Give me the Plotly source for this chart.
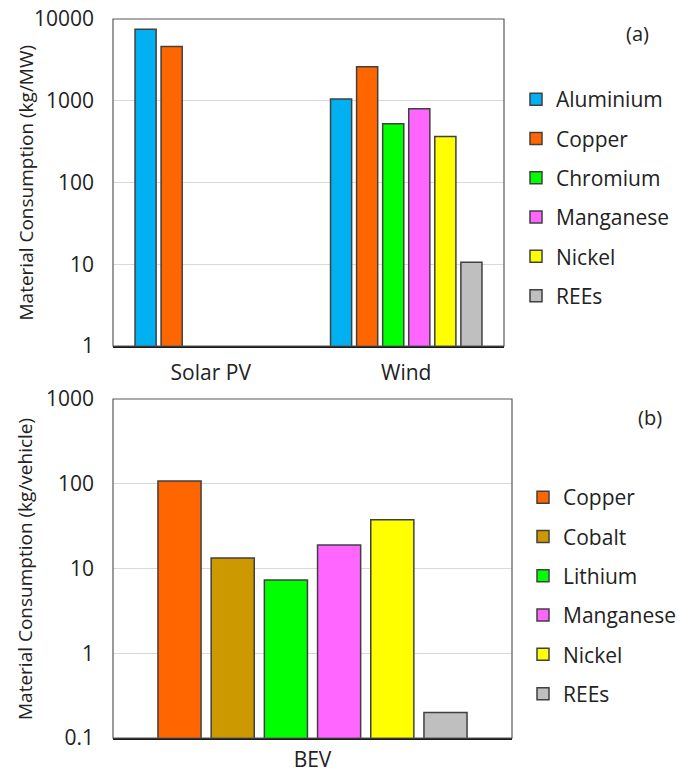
import plotly.graph_objects as go

# ---- data ----
energy_categories = ["Solar PV", "Wind"]
energy_materials = ["Aluminium", "Copper", "Chromium", "Manganese", "Nickel", "REEs"]
aluminium = [7500, 1050]
copper = [4600, 2600]
chromium = [None, 525]
manganese = [None, 800]
nickel = [None, 365]
rees = [None, 10.6]
energy_values = [aluminium, copper, chromium, manganese, nickel, rees]

bev_category = ["BEV"]
bev_materials = ["Copper", "Cobalt", "Lithium", "Manganese", "Nickel", "REEs"]
bev_values = [108, 13.3, 7.3, 19, 37.5, 0.2]

top_ticks = [1, 10, 100, 1000, 10000]
top_ticktext = ["1", "10", "100", "1000", "10000"]
bot_ticks = [0.1, 1, 10, 100, 1000]
bot_ticktext = ["0.1", "1", "10", "100", "1000"]

colors = {
    "Aluminium": "#00B0F0",
    "Copper": "#FF6600",
    "Chromium": "#00FF00",
    "Manganese": "#FF66FF",
    "Nickel": "#FFFF00",
    "REEs": "#BFBFBF",
    "Cobalt": "#CC9900",
    "Lithium": "#00FF00",
}

FONT = "Open Sans"
TXT = "#222222"
fig = go.Figure()

for name, vals in zip(energy_materials, energy_values):
    fig.add_trace(go.Bar(
        x=energy_categories, y=vals, name=name,
        marker=dict(color=colors[name], line=dict(color="#404040", width=1.5)),
        xaxis="x", yaxis="y", legend="legend", legendgroup="a" + name,
    ))

for name, val in zip(bev_materials, bev_values):
    fig.add_trace(go.Bar(
        x=bev_category, y=[val], name=name,
        marker=dict(color=colors[name], line=dict(color="#404040", width=1.5)),
        xaxis="x2", yaxis="y2", legend="legend2", legendgroup="b" + name,
    ))

axis_common_y = dict(
    type="log", showgrid=True, gridcolor="#D9D9D9", gridwidth=1,
    showline=False, ticks="", automargin=False,
    tickfont=dict(family=FONT, size=21, color=TXT),
    zeroline=False, ticklabelstandoff=18,
)
axis_common_x = dict(
    showline=True, linecolor="#1a1a1a", linewidth=1.8, mirror=False,
    ticks="", automargin=False,
    tickfont=dict(family=FONT, size=21, color=TXT),
    showgrid=False,
)

W, H = 690, 776
frame = dict(type="rect", x0=0, x1=1, y0=0, y1=1,
             line=dict(color="#595959", width=1.2), layer="above")
title_font = dict(family=FONT, size=19, color=TXT)

fig.update_layout(
    width=W, height=H,
    margin=dict(l=0, r=0, t=0, b=0, autoexpand=False),
    paper_bgcolor="white", plot_bgcolor="white",
    barmode="group", bargap=0.2, bargroupgap=0.19,
    font=dict(family=FONT, size=21, color=TXT),
    showlegend=True,
    xaxis=dict(domain=[113 / W, 504 / W], anchor="y", ticklabelstandoff=7,
               **axis_common_x),
    yaxis=dict(domain=[1 - 346 / H, 1 - 19 / H], anchor="x",
               range=[0, 4], tickvals=top_ticks, ticktext=top_ticktext,
               **axis_common_y),
    xaxis2=dict(domain=[113 / W, 512 / W], anchor="y2", ticklabelstandoff=2,
                **axis_common_x),
    yaxis2=dict(domain=[1 - 738 / H, 1 - 399 / H], anchor="x2",
                range=[-1, 3], tickvals=bot_ticks, ticktext=bot_ticktext,
                **axis_common_y),
    legend=dict(x=516 / W, y=1 - 79 / H, xanchor="left", yanchor="top",
                font=dict(family=FONT, size=21, color=TXT),
                tracegroupgap=9, bgcolor="rgba(0,0,0,0)"),
    legend2=dict(x=523 / W, y=1 - 477 / H, xanchor="left", yanchor="top",
                 font=dict(family=FONT, size=21, color=TXT),
                 tracegroupgap=9, bgcolor="rgba(0,0,0,0)"),
    shapes=[
        dict(frame, xref="x domain", yref="y domain"),
        dict(frame, xref="x2 domain", yref="y2 domain"),
    ],
    annotations=[
        dict(text="Material Consumption (kg/MW)", textangle=-90,
             x=25 / W, y=1 - 182.5 / H, xref="paper", yref="paper",
             xanchor="center", yanchor="middle", showarrow=False, font=title_font),
        dict(text="Material Consumption (kg/vehicle)", textangle=-90,
             x=25 / W, y=1 - 569 / H, xref="paper", yref="paper",
             xanchor="center", yanchor="middle", showarrow=False, font=title_font),
        dict(text="(a)", x=637 / W, y=1 - 34 / H, xref="paper", yref="paper",
             xanchor="center", yanchor="middle",
             showarrow=False, font=dict(family=FONT, size=20, color=TXT)),
        dict(text="(b)", x=650 / W, y=1 - 417 / H, xref="paper", yref="paper",
             xanchor="center", yanchor="middle",
             showarrow=False, font=dict(family=FONT, size=20, color=TXT)),
    ],
)

fig.write_html("out.html", config={"displayModeBar": False},
               post_script="document.body.style.margin='0';")
